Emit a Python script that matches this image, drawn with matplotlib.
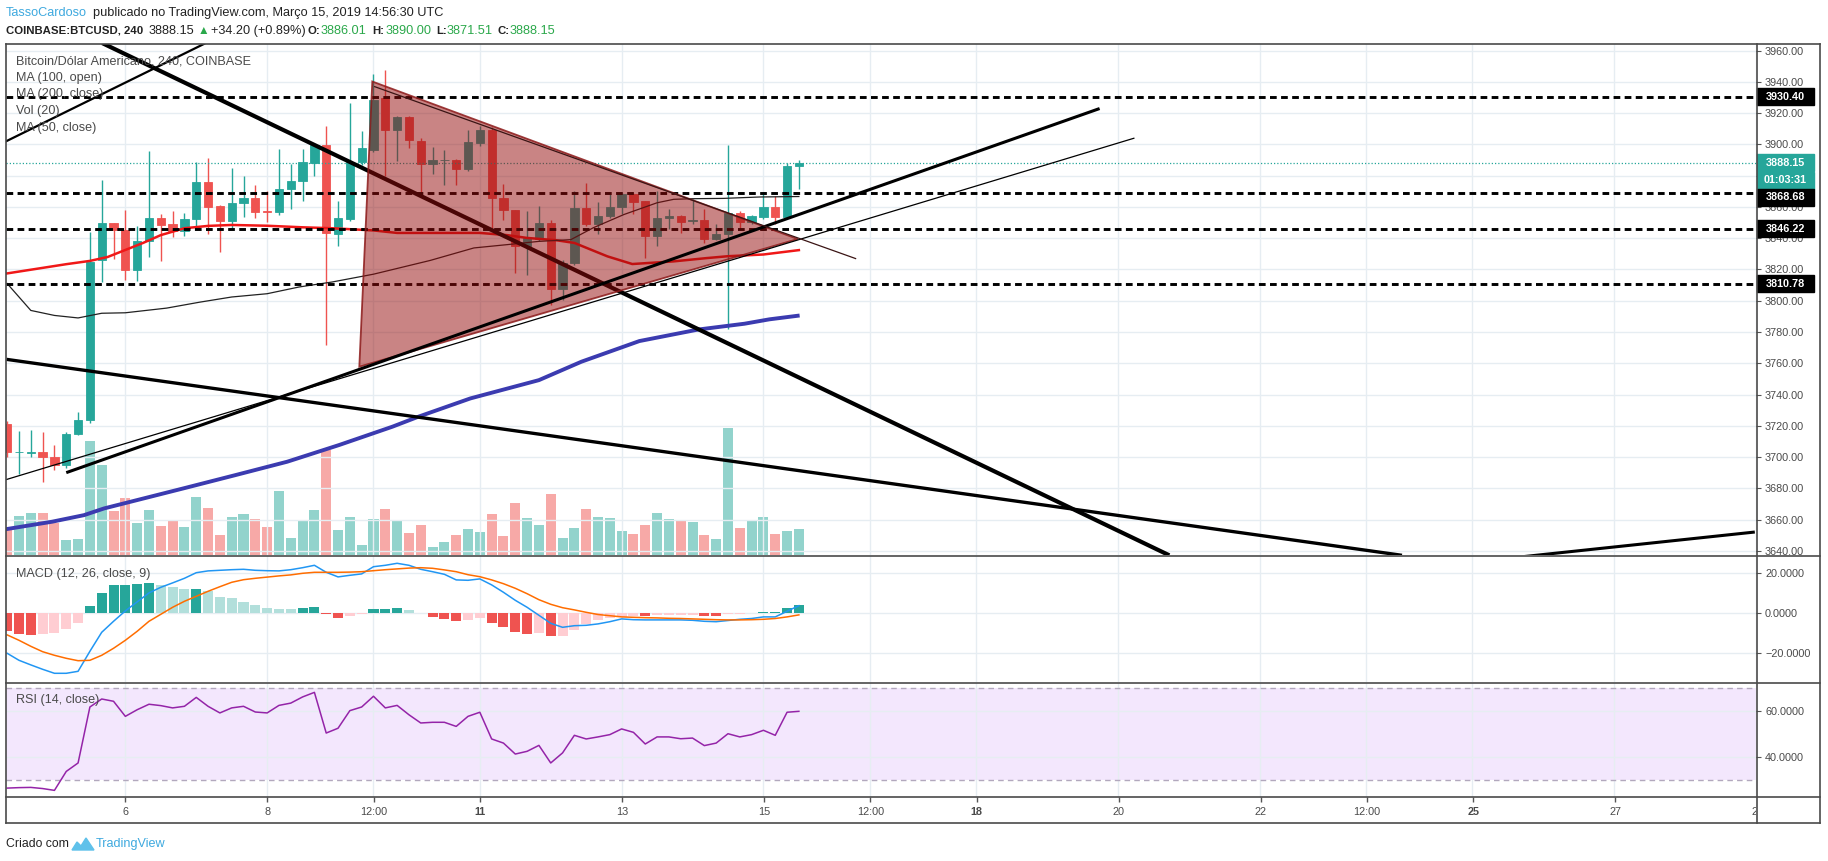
import matplotlib
matplotlib.use("Agg")
import matplotlib.pyplot as plt
import matplotlib.transforms as mtransforms
from matplotlib.lines import Line2D
from matplotlib.patches import Polygon, Rectangle

W, H = 1828, 861

# 4h candles, index 0 = 6 Mar 2019 00:00 UTC
bars = list(range(-10, 58))

opens = [3721, 3703, 3702.5, 3703.5, 3700, 3695, 3715, 3724, 3826, 3849.6,
         3845, 3819.5, 3838, 3853, 3849, 3844.6, 3852, 3875.8, 3860.7, 3851.3,
         3862.4, 3865.9, 3857.5, 3857, 3871.5, 3876.4, 3888.2, 3899.4, 3843, 3852.2,
         3888.6, 3896.4, 3929.9, 3909.5, 3917.5, 3902.4, 3887.4, 3890, 3890.2, 3884,
         3900.7, 3909.5, 3865.5, 3857.8, 3834.8, 3839.8, 3849.5, 3807.4, 3824.1, 3859.5,
         3849.2, 3854.2, 3860.2, 3868.1, 3863.8, 3841.3, 3852.7, 3854.2, 3851, 3851.4,
         3839.6, 3842.4, 3856.3, 3850.5, 3853.6, 3860.1, 3853.6, 3886.01]
highs = [3723, 3716.5, 3717.5, 3716, 3708, 3716, 3729, 3844, 3877.5, 3850,
         3858, 3848, 3895.7, 3855.4, 3857.7, 3856, 3888.6, 3891.4, 3861, 3885,
         3879.6, 3874, 3870, 3897, 3887.6, 3896.8, 3900, 3911.8, 3864, 3926.7,
         3908.6, 3945, 3947.5, 3918, 3918, 3904.2, 3898.2, 3896.7, 3890.5, 3909.5,
         3912, 3911, 3874.5, 3858, 3857.4, 3860.6, 3851.6, 3826, 3870.3, 3875.6,
         3863.4, 3868.5, 3869.2, 3869, 3864, 3870.3, 3858.5, 3855, 3865.3, 3859,
         3848.8, 3899.9, 3857.4, 3854.7, 3869.3, 3867.2, 3888, 3890]
lows = [3700, 3689, 3700, 3684, 3692, 3693, 3714, 3722, 3812, 3827,
        3813, 3812.7, 3828, 3825.5, 3841, 3841.4, 3848, 3843, 3831.3, 3846.4,
        3853.9, 3853.2, 3850.6, 3855, 3858.6, 3864, 3879.6, 3771.9, 3835.2, 3851,
        3887, 3895, 3880, 3889.6, 3897.5, 3869.2, 3881, 3873.9, 3874, 3883,
        3899, 3846.7, 3851.4, 3817.7, 3816.6, 3838, 3797.3, 3800.5, 3823, 3848,
        3842.4, 3853, 3855.2, 3855.7, 3827.3, 3834.8, 3846.2, 3843.4, 3848.8, 3837,
        3839, 3781.7, 3846.7, 3849, 3852, 3849, 3853.2, 3871.51]
closes = [3703, 3703.5, 3703.5, 3700, 3695, 3715, 3724, 3825, 3849.6, 3845.3,
          3819.5, 3838, 3853, 3848.5, 3844.6, 3852, 3875.8, 3860, 3851.3, 3862.4,
          3865.9, 3857, 3857, 3871.5, 3876.8, 3888.6, 3899.4, 3843.6, 3852.8, 3888.6,
          3897.9, 3928.6, 3909.5, 3917.5, 3902.9, 3887.4, 3890.2, 3890.3, 3884, 3901.4,
          3909.5, 3865.5, 3857.8, 3834.8, 3840.2, 3849.5, 3807.4, 3824.1, 3859.5, 3849.2,
          3854.2, 3860.2, 3868.1, 3863.4, 3841.3, 3852.7, 3854.2, 3850.5, 3851.4, 3839.6,
          3842.4, 3856.3, 3850.5, 3854.2, 3860.1, 3853.6, 3886.5, 3888.15]
volumes = [82, 117, 125, 125, 95, 44, 47, 341, 269, 131,
           170, 95, 134, 86, 104, 83, 173, 140, 59, 113,
           122, 107, 83, 191, 50, 104, 134, 314, 74, 113,
           29, 107, 137, 104, 65, 89, 23, 38, 59, 77,
           68, 122, 56, 155, 110, 89, 182, 50, 80, 137,
           114, 110, 71, 62, 89, 125, 107, 101, 98, 59,
           47, 380, 80, 104, 114, 62, 71, 77]

macd_line = [-20, -23.5, -25.8, -28, -30, -30, -29, -19, -9.5, -4,
             1.2, 5.7, 10.2, 13, 15.2, 17.5, 20.3, 21.2, 21.5, 21.8,
             22, 21.5, 21.3, 21.2, 21.8, 22.8, 24, 20.5, 18.2, 19,
             19.7, 23.3, 24, 25, 24, 22, 20.8, 19.5, 16.7, 16.5,
             17.2, 14.2, 10.5, 6.5, 3, -1, -5, -7, -6.2, -6,
             -5.3, -4.2, -2.8, -3.2, -3.3, -3.3, -3.3, -3.3, -3.5, -4,
             -4.2, -3.6, -3, -2.6, -1.8, -1.8, 1, 3.8]
signal_line = [-10.8, -13.5, -16.5, -19.2, -21, -22.5, -23.7, -23.5, -21, -17.5,
               -13.5, -9, -4, -0.5, 3, 6, 8.5, 11, 13.3, 15.5,
               16.8, 17.5, 18.1, 18.7, 19.2, 20, 20.5, 20.5, 20.5, 20.6,
               20.8, 21.3, 21.8, 22.2, 22.6, 22.8, 22.5, 21.7, 20.8, 19.3,
               18.3, 16.7, 14.8, 12.5, 9.8, 6.8, 4.5, 2.8, 1.7, 0.5,
               -0.6, -1.2, -1.8, -2, -2.2, -2.3, -2.5, -2.6, -2.8, -3,
               -3.2, -3.3, -3.3, -3.2, -3, -2.6, -1.8, -0.8]
macd_hist = [-8.8, -10.3, -10.8, -10.3, -9.7, -7.8, -4.8, 3.7, 10.2, 14.0,
             14.2, 14.8, 15.2, 14.2, 13.2, 12.0, 12.4, 11.2, 8.2, 7.5,
             5.7, 4.2, 2.7, 2.3, 2.1, 2.7, 3.2, -0.2, -2.2, -1.2,
             -0.2, 2.2, 2.3, 2.7, 1.7, 0.2, -1.7, -2.7, -3.7, -3.2,
             -2.2, -4.7, -6.7, -9.2, -10.2, -9.7, -11.4, -11.1, -8.2, -5.2,
             -3.2, -2.2, -1.7, -1.2, -1.4, -0.8, -0.75, -0.7, -0.65, -1.2,
             -1.3, -0.3, -0.2, 0.3, 0.7, 0.8, 2.8, 4.2]
rsi = [26.4, 26.6, 26.7, 26.2, 25.4, 33.7, 37.4, 61.9, 65.4, 64.4,
       57.8, 60.7, 63.1, 62.5, 61.5, 62.2, 66.1, 62.2, 59.3, 61.5,
       62.2, 59.7, 59.3, 62.6, 63.6, 66.3, 68.3, 50.5, 52.6, 60.3,
       61.9, 66.6, 61.5, 62.6, 58.5, 54.9, 55.2, 55.2, 53.4, 57.8,
       59.6, 47.9, 46.1, 41.3, 42.5, 45.1, 37.4, 41.8, 49.5, 47.9,
       48.8, 49.8, 52.3, 50.8, 45.7, 48.8, 48.8, 48.0, 48.3, 45.0,
       46.1, 50.2, 48.8, 49.8, 51.7, 49.5, 59.6, 60.0]

# moving averages as (bar, price) points
ma_red_x = [-10, -5, -3, -1.5, 1.5, 3, 5, 7, 9, 12, 15, 17.5, 21, 23, 30, 32.3,
            34, 36.5, 38, 40.8, 42.9, 46.4, 49.2, 51, 54, 57]
ma_red_y = [3817.5, 3823.4, 3825.5, 3828, 3837, 3842, 3846.4, 3847.9, 3848.5, 3848,
            3847, 3846.4, 3845, 3843.4, 3843.4, 3842, 3840.2, 3838.7, 3837, 3828.4,
            3823.5, 3825.2, 3827.3, 3828.5, 3829.6, 3832.4]
ma_thin_x = [-10, -8, -6, -4, -2, 0, 3.5, 6.3, 9, 12, 14.7, 17.5, 21, 25.8, 29.5,
             32.3, 35, 37.7, 39.6, 42.2, 45, 46.4, 48, 50.6, 53.7, 57]
ma_thin_y = [3811, 3793.8, 3790.6, 3789, 3792, 3792.3, 3795.3, 3799.1, 3802.4, 3804.5,
             3808.8, 3812, 3817, 3825.8, 3833.8, 3835.9, 3838, 3839.1, 3846.7, 3855.2,
             3862.7, 3864.9, 3865.3, 3865.5, 3866.4, 3866.7]
ma_blue_x = [-10.2, -6.2, -3.5, -1.8, 0.45, 4.9, 9.3, 13.7, 18.1, 22.6, 24.8, 29.2,
             35, 38.6, 43.5, 48.5, 52.4, 54.5, 56.9]
ma_blue_y = [3653.7, 3658.6, 3662.8, 3667.1, 3671.4, 3679.9, 3688.4, 3697, 3707.7,
             3719.4, 3725.8, 3737.5, 3749.2, 3761, 3774.2, 3781.6, 3785.3, 3788.1, 3790.4]

levels = [3930.40, 3868.68, 3846.22, 3810.78]
last_price = 3888.15
change = "+34.20 (+0.89%)"
countdown = "01:03:31"

# drawings: (bar0, price0, bar1, price1, width, zorder)
trend_lines = [
    (-1.96, 3964.9, 88.35, 3637.1, 3.0, 4),
    (-10.13, 3901.9, 6.75, 3964.7, 1.6, 4),
    (-10.06, 3762.5, 108.04, 3637.1, 2.4, 4),
    (-5.0, 3690.0, 82.45, 3923.0, 2.2, 6),
    (-10.11, 3685.5, 85.4, 3904.1, 0.9, 6),
    (117.0, 3635.2, 137.9, 3652.0, 2.2, 6),
]
edge_line = (21.1, 3937.0, 61.8, 3827.0)
triangle = [(20.9, 3940.3), (19.8, 3757.8), (56.9, 3839.5)]

date_ticks = [0, 12, 21, 30, 42, 54, 63, 72, 84, 96, 105, 114, 126, 138]
date_labels = ["6", "8", "12:00", "11", "13", "15", "12:00", "18", "20", "22",
               "12:00", "25", "27", "29"]
bold_dates = ["11", "18", "25"]

price_ticks = list(range(3640, 3961, 20))
hidden_price_labels = [3880]  # sits fully under the price tags

UP, DOWN = "#26a69a", "#ef5350"
GRID = "#e6edf2"
TXT = "#4a4a4a"


def rect(top, bottom, left=6, right=1756):
    return [left / W, 1 - bottom / H, (right - left) / W, (bottom - top) / H]


def strip(ax):
    for s in ax.spines.values():
        s.set_visible(False)
    ax.set_xlim(-10.1, 137.9)
    ax.set_xticks(date_ticks)
    ax.tick_params(axis="x", length=0, labelbottom=False)


def right_ticks(ax, ticks, labels):
    ax.yaxis.tick_right()
    ax.set_yticks(ticks)
    ax.set_yticklabels(labels)
    ax.tick_params(axis="y", direction="out", length=3.6, width=0.8, color="#555555",
                   labelsize=7.8, labelcolor=TXT, pad=2.9)


def price_tag(ax, y, text, color, pane_px, shift_px=0.0):
    y0, y1 = ax.get_ylim()
    per_px = (y1 - y0) / pane_px
    yc = y + shift_px * per_px
    h = 17 * per_px
    tr = mtransforms.blended_transform_factory(ax.transAxes, ax.transData)
    ax.add_patch(Rectangle((1.0004, yc - h / 2), 0.0326, h, transform=tr, fc=color,
                           ec=color, clip_on=False, zorder=10))
    ax.text(1.0004 + 0.0163, yc, text, transform=tr, ha="center", va="center",
            color="white", fontsize=7.8, fontweight="bold", clip_on=False, zorder=11)


def hist_colors(values):
    out = []
    prev = values[0]
    for v in values:
        if v >= 0:
            out.append("#26a69a" if v >= prev else "#b2dfdb")
        else:
            out.append("#ef5350" if v <= prev else "#ffcdd2")
        prev = v
    return out


def main():
    plt.rcParams["font.family"] = ["Liberation Sans", "DejaVu Sans"]
    fig = plt.figure(figsize=(W / 100, H / 100), dpi=100)
    fig.patch.set_facecolor("white")

    def ftext(x, y, s, **kw):
        kw.setdefault("va", "center")
        fig.text(x / W, 1 - y / H, s, **kw)

    def fline(x0, y0, x1, y1, **kw):
        fig.add_artist(Line2D([x0 / W, x1 / W], [1 - y0 / H, 1 - y1 / H],
                              color="#4a4a4a", lw=1.2, **kw))

    # ---- main price pane + volume underneath
    ax_vol = fig.add_axes(rect(44, 555), label="vol")
    ax = fig.add_axes(rect(44, 555), label="price")
    ax_vol.set_zorder(0)
    ax.set_zorder(1)
    ax.patch.set_visible(False)
    for a in (ax_vol, ax):
        strip(a)
    ax_vol.set_yticks([])
    ax_vol.grid(axis="x", color=GRID, lw=1)
    ax.set_ylim(3637.3, 3964.3)
    right_ticks(ax, price_ticks,
                ["" if v in hidden_price_labels else f"{v:.2f}" for v in price_ticks])
    ax.grid(axis="y", color=GRID, lw=1)

    up = [c >= o for o, c in zip(opens, closes)]
    vol_cols = ["#92d3cc" if u else "#f7a9a7" for u in up]
    ax_vol.bar(bars, volumes, width=0.85, color=vol_cols)
    ax_vol.set_ylim(0, max(volumes) * 4.03)

    cols = [UP if u else DOWN for u in up]
    ax.vlines(bars, lows, highs, colors=cols, lw=1, zorder=3)
    bottoms = [min(o, c) for o, c in zip(opens, closes)]
    heights = [abs(c - o) for o, c in zip(opens, closes)]
    ax.bar(bars, heights, bottom=bottoms, width=0.7, color=cols, edgecolor=cols,
           lw=0.6, zorder=3)

    ax.plot(ma_red_x, ma_red_y, color="#f01818", lw=1.8, zorder=4)
    ax.plot(ma_thin_x, ma_thin_y, color="#222222", lw=0.9, zorder=4)
    ax.plot(ma_blue_x, ma_blue_y, color="#3b3bb0", lw=2.8, zorder=4)

    for lv in levels:
        ax.axhline(lv, color="black", lw=2.1, ls=(0, (2.3, 1.5)), zorder=4)
    ax.axhline(last_price, color=UP, lw=0.9, ls=(0, (1, 1.6)), zorder=4)

    for x0, y0, x1, y1, lw, z in trend_lines:
        ax.plot([x0, x1], [y0, y1], color="black", lw=lw, solid_capstyle="butt", zorder=z)
    ax.add_patch(Polygon(triangle, closed=True, fc=(0.58, 0.04, 0.04, 0.5),
                         ec=(0.55, 0.1, 0.1, 0.85), lw=1.3, zorder=5))
    ax.plot(edge_line[::2], edge_line[1::2], color="#3a1414", lw=0.9, zorder=6)

    price_tag(ax, levels[0], f"{levels[0]:.2f}", "black", 511)
    price_tag(ax, last_price, f"{last_price:.2f}", UP, 511)
    price_tag(ax, last_price, countdown, UP, 511, shift_px=-17.5)
    price_tag(ax, levels[1], f"{levels[1]:.2f}", "black", 511, shift_px=-4)
    price_tag(ax, levels[2], f"{levels[2]:.2f}", "black", 511)
    price_tag(ax, levels[3], f"{levels[3]:.2f}", "black", 511)

    legend = ["Bitcoin/Dólar Americano, 240, COINBASE", "MA (100, open)",
              "MA (200, close)", "Vol (20)", "MA (50, close)"]
    for i, s in enumerate(legend):
        ftext(15.6, 61 + i * 16.7, s, fontsize=9.1, color=TXT)

    # ---- MACD
    axm = fig.add_axes(rect(556, 682))
    strip(axm)
    axm.set_ylim(-34.35, 28.65)
    right_ticks(axm, [20, 0, -20], ["20.0000", "0.0000", "\u221220.0000"])
    axm.grid(color=GRID, lw=1)
    axm.bar(bars, macd_hist, width=0.85, color=hist_colors(macd_hist), zorder=2)
    axm.plot(bars, macd_line, color="#2196f3", lw=1.1, zorder=3)
    axm.plot(bars, signal_line, color="#ff6d00", lw=1.1, zorder=3)
    ftext(16, 574.5, "MACD (12, 26, close, 9)", fontsize=9.1, color=TXT)

    # ---- RSI
    axr = fig.add_axes(rect(683, 797))
    strip(axr)
    axr.set_ylim(22.5, 72.4)
    right_ticks(axr, [60, 40], ["60.0000", "40.0000"])
    axr.grid(color=GRID, lw=1, zorder=0)
    axr.axhspan(30, 70, color="#8c1cf0", alpha=0.1, lw=0, zorder=1)
    for lv in (70, 30):
        axr.axhline(lv, color="#b2a8bd", lw=1, ls=(0, (4, 3)), zorder=2)
    axr.plot(bars, rsi, color="#9424a8", lw=1.1, zorder=3)
    ftext(16, 699.7, "RSI (14, close)", fontsize=9.1, color=TXT)

    # ---- time axis strip
    axt = fig.add_axes(rect(797, 823))
    for s in axt.spines.values():
        s.set_visible(False)
    axt.set_xlim(-10.1, 137.9)
    axt.set_ylim(0, 1)
    axt.set_xticks([])
    axt.set_yticks([])
    axt.vlines(date_ticks, 0.8, 1.0, color="#555555", lw=1)
    for t, lab in zip(date_ticks, date_labels):
        axt.text(t, 0.42, lab, ha="center", va="center", fontsize=7.8, color=TXT,
                 fontweight="bold" if lab in bold_dates else "normal", clip_on=True)

    # ---- frame
    fline(6, 44, 1820, 44)
    fline(6, 823, 1820, 823)
    fline(6, 44, 6, 823)
    fline(1820, 44, 1820, 823)
    fline(1757, 44, 1757, 823)
    for y in (555.5, 682.5, 797):
        fline(6, y, 1820, y)

    # ---- header
    dark = "#222222"
    green = "#2aa84a"
    ftext(6, 13.3, "TassoCardoso", fontsize=9.2, color="#3ea9df")
    ftext(93, 13.3, "publicado no TradingView.com, Março 15, 2019 14:56:30 UTC",
          fontsize=9.2, color=dark)
    ftext(6, 30.7, "COINBASE:BTCUSD, 240", fontsize=8.2, fontweight="bold", color=dark)
    ftext(149, 30.7, f"{last_price:.2f}", fontsize=9.2, color=dark)
    ftext(197.5, 30.7, "\u25b2", fontsize=8.5, color=green)
    ftext(211.4, 30.7, change, fontsize=9.2, color=dark)
    ohlc = [("O:", opens[-1], 308, 321), ("H:", highs[-1], 372.7, 385.7),
            ("L:", lows[-1], 436, 447), ("C:", closes[-1], 498, 510)]
    for key, val, xk, xv in ohlc:
        ftext(xk, 30.7, key, fontsize=8.2, fontweight="bold", color=dark)
        ftext(xv, 30.7, f"{val:.2f}", fontsize=9.2, color=green)

    # ---- footer
    ftext(6.3, 844, "Criado com", fontsize=8.8, color=dark)
    logo = [(72, 850), (77, 842), (81, 846), (86, 838), (94, 850)]
    fig.add_artist(Polygon([(x / W, 1 - y / H) for x, y in logo], closed=True,
                           fc="#5fc1ea", ec="#5fc1ea", lw=1))
    ftext(95.7, 844, "TradingView", fontsize=9.1, color="#3ea9df")

    fig.savefig("out.png", dpi=100, facecolor="white")


if __name__ == "__main__":
    main()
